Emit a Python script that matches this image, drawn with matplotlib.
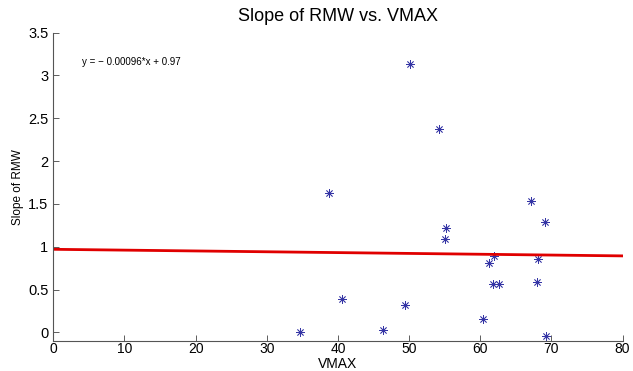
import matplotlib
matplotlib.use("Agg")
import matplotlib.pyplot as plt
import numpy as np

plt.rcParams['font.family'] = ['Liberation Sans', 'DejaVu Sans']

vmax = [34.7, 38.8, 40.6, 46.3, 49.4, 50.1, 54.2, 55.2, 55.1, 60.4,
        61.3, 61.9, 61.8, 62.7, 67.2, 68.1, 68.0, 69.1, 69.3]
slope = [0.00, 1.63, 0.39, 0.03, 0.32, 3.13, 2.37, 1.22, 1.09, 0.16,
         0.81, 0.89, 0.56, 0.57, 1.53, 0.86, 0.585, 1.29, -0.04]
fit_slope = -0.00096
fit_intercept = 0.97
fit_x = [0, 80]
xticks = [0, 10, 20, 30, 40, 50, 60, 70, 80]
yticks = [0, 0.5, 1, 1.5, 2, 2.5, 3, 3.5]
ytick_labels = ['0', '0.5', '1', '1.5', '2', '2.5', '3', '3.5']

W, H = 633, 371
left_px, right_px, top_px, bottom_px = 53.3, 622.5, 32.5, 341.0
fig = plt.figure(figsize=(W / 100, H / 100), dpi=100)
ax = fig.add_axes([left_px / W, (H - bottom_px) / H,
                   (right_px - left_px) / W, (bottom_px - top_px) / H])

ax.plot(vmax, slope, linestyle='none', marker=(8, 2, 0), markersize=6,
        color='#3535a5', markeredgewidth=0.55)
fx = np.array(fit_x, dtype=float)
ax.plot(fx, fit_slope * fx + fit_intercept, color='#e00000', linewidth=2)

ax.set_xlim(0, 80)
ax.set_ylim(-0.1, 3.5)
ax.set_xticks(xticks)
ax.set_yticks(yticks)
ax.set_yticklabels(ytick_labels)
ax.tick_params(direction='in', labelsize=10.5, length=4, width=0.6,
               colors='#444444', labelcolor='black')
ax.tick_params(axis='x', pad=1.0, labelsize=10)
for s in ['top', 'right']:
    ax.spines[s].set_visible(False)
for s in ['left', 'bottom']:
    ax.spines[s].set_color('#555555')
    ax.spines[s].set_linewidth(0.8)

ax.set_title('Slope of RMW vs. VMAX', fontsize=13, pad=8)
ax.set_xlabel('VMAX', fontsize=10, va='bottom')
ax.xaxis.set_label_coords(0.5, -(H - 0.5 - bottom_px) / (bottom_px - top_px))
ax.set_ylabel('Slope of RMW', fontsize=8.5, labelpad=3)
ax.text(4.0, 3.16, 'y = \u2212 0.00096*x + 0.97', fontsize=7, va='center', ha='left')

fig.savefig('out.png', dpi=100)
